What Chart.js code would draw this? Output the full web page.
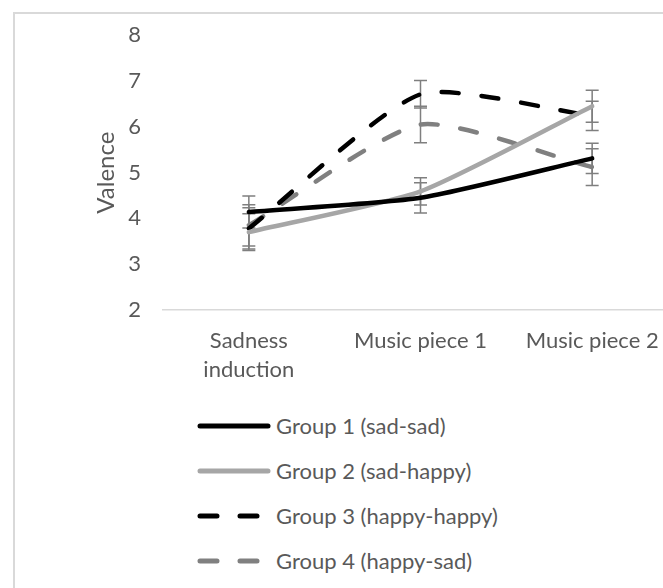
<!DOCTYPE html>
<html>
<head>
<meta charset="utf-8">
<script src="https://cdn.jsdelivr.net/npm/chart.js@4.4.1/dist/chart.umd.min.js"></script>
<style>
html, body { margin: 0; padding: 0; background: #fff; overflow: hidden; width: 663px; height: 588px; font-family: Lato, sans-serif; }
#frame { position: absolute; left: 13px; top: 12px; width: 720px; height: 640px; border-left: 2px solid #d9d9d9; border-top: 2px solid #d9d9d9; }
#chart { position: absolute; left: 0; top: 0; }
#legend { position: absolute; left: 195px; top: 403px; }
.item { display: flex; align-items: center; height: 45px; color: #595959; font-size: 22px; }
.item svg { margin-right: 3px; }
</style>
</head>
<body>
<div id="frame"></div>
<canvas id="chart" width="700" height="400"></canvas>
<div id="legend"></div>
<script>
// categories and tick range
const categories = [['Sadness', 'induction'], 'Music piece 1', 'Music piece 2'];
const yMin = 2, yMax = 8, yStep = 1;

// mean valence per group
const groupNames = ['Group 1 (sad-sad)', 'Group 2 (sad-happy)', 'Group 3 (happy-happy)', 'Group 4 (happy-sad)'];
const group1 = [4.14, 4.45, 5.31];
const group2 = [3.70, 4.59, 6.45];
const group3 = [3.78, 6.71, 6.24];
const group4 = [3.85, 6.05, 5.12];

// error bar half-lengths
const err1 = [0.35, 0.33, 0.33];
const err2 = [0.40, 0.30, 0.35];
const err3 = [0.45, 0.30, 0.32];
const err4 = [0.45, 0.40, 0.40];

const textColor = '#595959';
const font = { family: 'Lato', size: 22 };

// draws the error bars behind the lines
const errorBars = {
    id: 'errorBars',
    beforeDatasetsDraw(chart) {
        const ctx = chart.ctx;
        const x = chart.scales.x, y = chart.scales.y;
        ctx.save();
        ctx.strokeStyle = '#7f7f7f';
        ctx.lineWidth = 1.5;
        chart.data.datasets.forEach(ds => {
            ds.errors.forEach((e, j) => {
                const px = x.getPixelForValue(j);
                const top = y.getPixelForValue(ds.data[j] + e);
                const bot = y.getPixelForValue(ds.data[j] - e);
                ctx.beginPath();
                ctx.moveTo(px, top); ctx.lineTo(px, bot);
                ctx.moveTo(px - 6.5, top); ctx.lineTo(px + 6.5, top);
                ctx.moveTo(px - 6.5, bot); ctx.lineTo(px + 6.5, bot);
                ctx.stroke();
            });
        });
        ctx.restore();
    }
};

function line(label, data, errors, color, dash) {
    return {
        label: label,
        data: data,
        errors: errors,
        borderColor: color,
        backgroundColor: color,
        borderWidth: 4.5,
        borderDash: dash,
        borderCapStyle: 'round',
        pointRadius: 0,
        tension: 0.2
    };
}

function buildLegend(chart) {
    const box = document.getElementById('legend');
    chart.data.datasets.forEach(ds => {
        const row = document.createElement('div');
        row.className = 'item';
        const dash = ds.borderDash.length ? 'stroke-dasharray="' + ds.borderDash.join(' ') + '"' : '';
        row.innerHTML = '<svg width="78" height="10"><line x1="5" y1="5" x2="73" y2="5" stroke="' + ds.borderColor +
            '" stroke-width="5" stroke-linecap="round" ' + dash + '/></svg><span>' + ds.label + '</span>';
        box.appendChild(row);
    });
}

document.fonts.load('22px Lato').then(() => {
    const chart = new Chart(document.getElementById('chart'), {
        type: 'line',
        data: {
            labels: categories,
            datasets: [
                line(groupNames[0], group1, err1, '#000000', []),
                line(groupNames[1], group2, err2, '#a6a6a6', []),
                line(groupNames[2], group3, err3, '#000000', [17, 23]),
                line(groupNames[3], group4, err4, '#808080', [17, 23])
            ]
        },
        options: {
            responsive: false,
            animation: false,
            devicePixelRatio: 1,
            layout: { padding: { left: 92, top: 27, right: 22, bottom: 0 } },
            plugins: { legend: { display: false }, tooltip: { enabled: false } },
            scales: {
                x: {
                    offset: true,
                    grid: { display: false, drawTicks: false },
                    border: { display: true, color: '#d9d9d9', width: 1.5 },
                    ticks: { color: textColor, font: { family: 'Lato', size: 22, lineHeight: 1.32 }, padding: 16, maxRotation: 0, autoSkip: false },
                    afterFit(s) { s.height = 90; }
                },
                y: {
                    min: yMin,
                    max: yMax,
                    ticks: { stepSize: yStep, color: textColor, font: font, padding: 22 },
                    grid: { display: false, drawTicks: false },
                    border: { display: false },
                    title: { display: true, text: 'Valence', color: textColor, font: { family: 'Lato', size: 24 }, padding: 0 },
                    afterFit(s) { s.width = 71; }
                }
            }
        },
        plugins: [errorBars]
    });
    buildLegend(chart);
});
</script>
</body>
</html>
